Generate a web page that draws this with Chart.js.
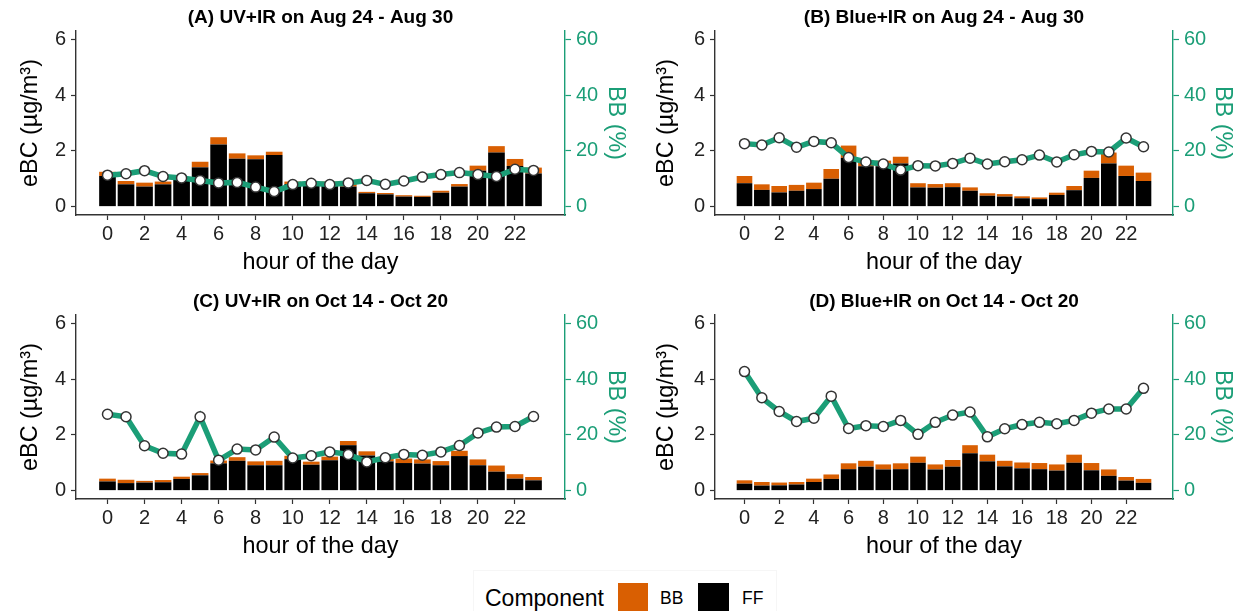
<!DOCTYPE html>
<html>
<head>
<meta charset="utf-8">
<script src="https://cdn.jsdelivr.net/npm/chart.js@4.4.1/dist/chart.umd.min.js"></script>
<style>
  html, body { margin:0; padding:0; background:#fff; }
  #wrap { position:relative; width:1238px; height:611px; overflow:hidden; font-family:"Liberation Sans", Arial, sans-serif; }
  canvas { position:absolute; }
  .lg { position:absolute; color:#000; white-space:nowrap; }
</style>
</head>
<body>
<div id="wrap">
  <canvas id="cA" width="630" height="284" style="left:0px;top:0px;width:630px;height:284px"></canvas>
  <canvas id="cB" width="597" height="284" style="left:640px;top:0px;width:597px;height:284px"></canvas>
  <canvas id="cC" width="630" height="284" style="left:0px;top:284px;width:630px;height:284px"></canvas>
  <canvas id="cD" width="597" height="284" style="left:640px;top:284px;width:597px;height:284px"></canvas>
  <div class="lg" style="left:473px;top:570px;width:302px;height:50px;border:1px solid #f6f6f6;"></div>
  <div class="lg" style="left:485px;top:584px;font-size:23px;line-height:28px;">Component</div>
  <div class="lg" style="left:618px;top:583px;width:30px;height:30px;background:#D95F02;"></div>
  <div class="lg" style="left:660px;top:588px;font-size:17.5px;line-height:20px;">BB</div>
  <div class="lg" style="left:698px;top:583px;width:31px;height:30px;background:#000;"></div>
  <div class="lg" style="left:742px;top:588px;font-size:17.5px;line-height:20px;">FF</div>
</div>
<script>
// ---- data ----
const hours = [0,1,2,3,4,5,6,7,8,9,10,11,12,13,14,15,16,17,18,19,20,21,22,23];
const xTicks = [0,2,4,6,8,10,12,14,16,18,20,22];
const yTicks = [0,2,4,6];
const y2Ticks = [0,20,40,60];

const titleA = "(A) UV+IR on Aug 24 - Aug 30";
const ffA  = [1.10,0.80,0.72,0.80,0.98,1.41,2.23,1.72,1.70,1.85,0.81,0.81,0.81,0.72,0.48,0.44,0.36,0.35,0.50,0.72,1.29,1.94,1.46,1.19];
const bbA  = [0.15,0.12,0.14,0.10,0.07,0.20,0.26,0.19,0.14,0.12,0.09,0.07,0.09,0.13,0.05,0.05,0.05,0.04,0.07,0.09,0.18,0.23,0.25,0.21];
const pctA = [11.3,11.8,12.9,10.8,10.3,9.4,8.5,8.7,7.0,5.4,7.9,8.4,7.9,8.5,9.4,8.0,9.2,10.6,11.5,12.2,11.5,10.8,13.4,13.0];

const titleB = "(B) Blue+IR on Aug 24 - Aug 30";
const ffB  = [0.84,0.60,0.51,0.57,0.63,1.00,1.75,1.45,1.45,1.55,0.69,0.68,0.70,0.57,0.39,0.36,0.30,0.27,0.42,0.59,1.03,1.55,1.10,0.92];
const bbB  = [0.26,0.20,0.23,0.21,0.23,0.35,0.44,0.17,0.20,0.24,0.15,0.13,0.14,0.12,0.09,0.09,0.07,0.06,0.08,0.15,0.26,0.39,0.37,0.30];
const pctB = [22.6,22.1,24.7,21.3,23.4,22.9,17.6,16.0,15.3,13.1,14.7,14.6,15.5,17.4,15.3,16.1,16.8,18.5,16.0,18.6,19.8,19.6,24.6,21.5];

const titleC = "(C) UV+IR on Oct 14 - Oct 20";
const ffC  = [0.33,0.27,0.29,0.30,0.42,0.55,0.98,1.07,0.91,0.91,1.13,0.93,1.09,1.63,1.26,1.05,0.99,0.97,0.91,1.24,0.91,0.68,0.43,0.37];
const bbC  = [0.10,0.12,0.06,0.08,0.08,0.08,0.10,0.13,0.14,0.16,0.12,0.11,0.13,0.15,0.15,0.13,0.16,0.15,0.15,0.19,0.21,0.22,0.16,0.12];
const pctC = [27.4,26.5,16.1,13.4,13.1,26.5,10.9,14.9,14.6,19.2,11.7,12.5,13.9,13.0,10.3,11.8,13.0,12.7,13.9,16.2,20.7,22.8,23.0,26.6];

const titleD = "(D) Blue+IR on Oct 14 - Oct 20";
const ffD  = [0.25,0.18,0.19,0.22,0.31,0.42,0.77,0.86,0.76,0.77,1.00,0.76,0.86,1.34,1.05,0.87,0.80,0.77,0.72,1.00,0.73,0.53,0.36,0.28];
const bbD  = [0.12,0.13,0.10,0.09,0.12,0.16,0.21,0.21,0.18,0.21,0.22,0.18,0.24,0.29,0.24,0.20,0.21,0.22,0.22,0.29,0.26,0.23,0.13,0.14];
const pctD = [42.7,33.3,28.4,24.8,26.0,33.9,22.3,23.3,23.0,25.2,20.2,24.5,27.1,28.2,19.3,22.2,23.7,24.5,24.0,25.2,27.8,29.3,29.3,36.7];

// ---- styling ----
const FONT = '"Liberation Sans", Arial, sans-serif';
const GREEN = '#1B9E77', ORANGE = '#D95F02', AXIS = '#333333';
const TICK = 20, ATITLE = 23.4;

function makeChart(id, title, ff, bb, pct, g) {
  const pts = arr => hours.map((h, i) => ({ x: h, y: arr[i] }));
  return new Chart(document.getElementById(id), {
    type: 'bar',
    data: {
      datasets: [
        { label: 'FF', data: pts(ff), backgroundColor: '#000', yAxisID: 'y', barPercentage: 0.9, categoryPercentage: 1, order: 1 },
        { label: 'BB', data: pts(bb), backgroundColor: ORANGE, yAxisID: 'y', barPercentage: 0.9, categoryPercentage: 1, order: 1 },
        { type: 'line', label: 'BB (%)', data: pts(pct), yAxisID: 'y2', borderColor: GREEN, borderWidth: 5.5,
          pointRadius: 5, pointBackgroundColor: '#fff', pointBorderColor: '#333', pointBorderWidth: 1.5,
          tension: 0, order: 0 }
      ]
    },
    options: {
      responsive: false, animation: false, devicePixelRatio: 1,
      layout: { padding: 0 },
      plugins: {
        legend: { display: false }, tooltip: { enabled: false },
        title: { display: true, text: title, fullSize: false, color: '#000',
                 font: { family: FONT, size: 19, weight: 'bold' }, padding: { top: 6.6, bottom: 1.6 } }
      },
      scales: {
        x: {
          type: 'linear', min: -1.7, max: 24.7, stacked: true, offset: false,
          afterBuildTicks: s => { s.ticks = xTicks.map(v => ({ value: v })); },
          afterFit: s => { s.height = 69; },
          ticks: { font: { family: FONT, size: TICK }, color: '#222', padding: 2, autoSkip: false, maxRotation: 0 },
          grid: { display: true, offset: false, drawOnChartArea: false, drawTicks: true, tickLength: 5, tickColor: AXIS, tickWidth: 1.2 },
          border: { display: true, color: AXIS, width: 1.4 },
          title: { display: true, text: 'hour of the day', color: '#000', font: { family: FONT, size: ATITLE }, padding: { top: 0, bottom: 6.96 } }
        },
        y: {
          type: 'linear', position: 'left', min: -0.3, max: 6.3, stacked: true,
          afterBuildTicks: s => { s.ticks = yTicks.map(v => ({ value: v })); },
          afterFit: s => { s.width = g.lw; },
          ticks: { font: { family: FONT, size: TICK }, color: '#222', padding: 5 },
          grid: { display: true, drawOnChartArea: false, drawTicks: true, tickLength: 5, tickColor: AXIS, tickWidth: 1.2 },
          border: { display: true, color: AXIS, width: 1.4 },
          title: { display: true, text: 'eBC (µg/m³)', color: '#000', font: { family: FONT, size: ATITLE }, padding: { top: g.lpad, bottom: 0 } }
        },
        y2: {
          type: 'linear', position: 'right', min: -3, max: 63,
          afterBuildTicks: s => { s.ticks = y2Ticks.map(v => ({ value: v })); },
          afterFit: s => { s.width = g.rw; },
          ticks: { font: { family: FONT, size: TICK }, color: GREEN, padding: 5 },
          grid: { display: true, drawOnChartArea: false, drawTicks: true, tickLength: 6, tickColor: GREEN, tickWidth: 1.2 },
          border: { display: true, color: GREEN, width: 1.4 },
          title: { display: true, text: 'BB (%)', color: GREEN, font: { family: FONT, size: ATITLE }, padding: { top: 0.96, bottom: 0 } }
        }
      }
    }
  });
}

const gLeft  = { lw: 76, lpad: 17, rw: 65 };
const gRight = { lw: 75, lpad: 12.96, rw: 64 };
makeChart('cA', titleA, ffA, bbA, pctA, gLeft);
makeChart('cB', titleB, ffB, bbB, pctB, gRight);
makeChart('cC', titleC, ffC, bbC, pctC, gLeft);
makeChart('cD', titleD, ffD, bbD, pctD, gRight);
</script>
</body>
</html>
